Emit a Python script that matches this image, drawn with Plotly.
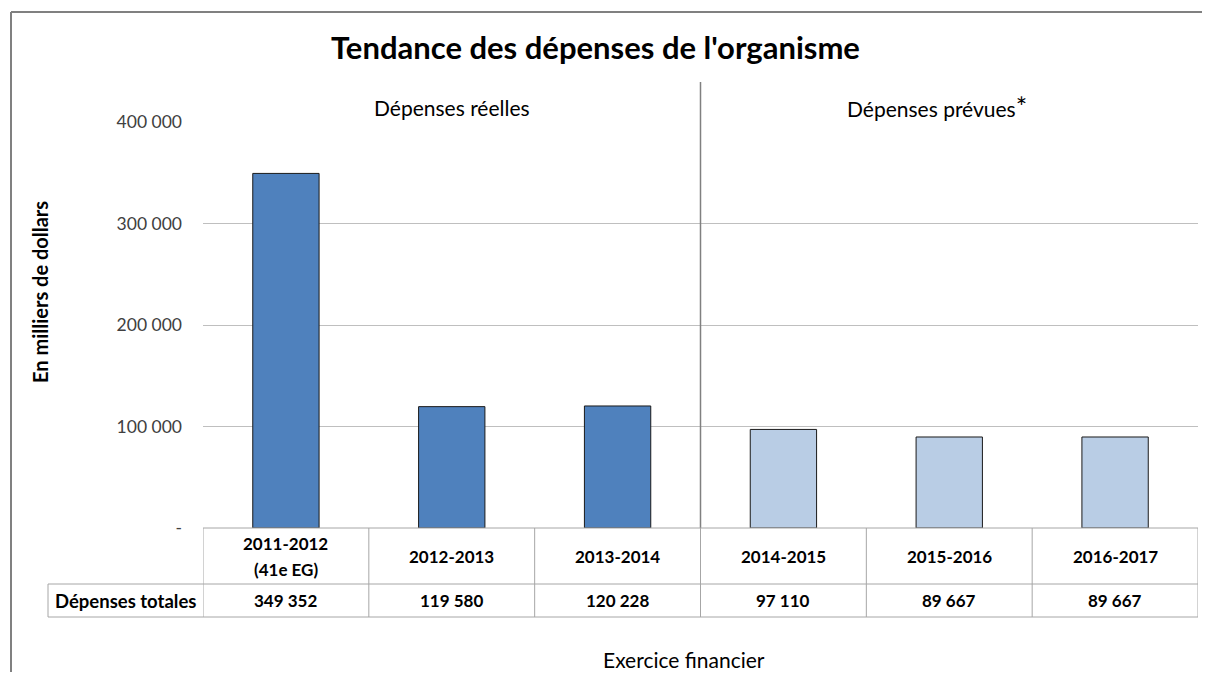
import plotly.graph_objects as go

categories = ["2011-2012<br>(41e EG)", "2012-2013", "2013-2014", "2014-2015", "2015-2016", "2016-2017"]
values = [349352, 119580, 120228, 97110, 89667, 89667]
kinds = ["actual", "actual", "actual", "planned", "planned", "planned"]
tick_vals = [0, 100000, 200000, 300000, 400000]
tick_text = ["-", "100 000", "200 000", "300 000", "400 000"]
row_label = "Dépenses totales"
title_text = "Tendance des dépenses de l'organisme"
y_title = "En milliers de dollars"
x_title = "Exercice financier"
group_labels = ["Dépenses réelles", "Dépenses prévues"]
footnote_mark = "*"

FONT = "Lato, 'Open Sans', sans-serif"
colors = {"actual": "#4F81BD", "planned": "#B9CDE5"}

def fmt(v):
    return f"{v:,}".replace(",", " ")

xs = list(range(len(categories)))
fig = go.Figure()
fig.add_trace(go.Bar(
    x=xs, y=values,
    marker=dict(color=[colors[k] for k in kinds], line=dict(color="#1a1a1a", width=1)),
    width=0.40, hoverinfo="y",
))

# page has an 8px body margin; keep figure small enough to avoid scrollbars
OFF = 8
FW, FH = 1194, 664
SL, SR, ST, SB = 203, 1198, 122, 528
ml, mr = SL - OFF, FW - (SR - OFF)
mt, mb = ST - OFF, FH - (SB - OFF)
pw = SR - SL
ph = SB - ST

def py(s):
    return (SB - s) / ph

def px(s):
    return (s - SL) / pw

grid = "#BFBFBF"
tline = "#A6A6A6"
border = "#808080"
shapes = []
# outer chart border (top and left visible)
shapes.append(dict(type="line", xref="paper", yref="paper", x0=px(11), x1=px(1260), y0=py(12), y1=py(12),
                   line=dict(color=border, width=2)))
shapes.append(dict(type="line", xref="paper", yref="paper", x0=px(11), x1=px(11), y0=py(12), y1=py(720),
                   line=dict(color=border, width=2)))
shapes.append(dict(type="line", xref="x", yref="paper", x0=2.5, x1=2.5, y0=0, y1=py(82),
                   line=dict(color=border, width=1.5)))
r0, r1, r2 = py(528), py(584), py(617)
shapes.append(dict(type="line", xref="paper", yref="paper", x0=0, x1=1, y0=r0, y1=r0, line=dict(color=tline, width=1)))
shapes.append(dict(type="line", xref="paper", yref="paper", x0=px(48), x1=1, y0=r1, y1=r1, line=dict(color=tline, width=1)))
shapes.append(dict(type="line", xref="paper", yref="paper", x0=px(48), x1=1, y0=r2, y1=r2, line=dict(color=tline, width=1)))
shapes.append(dict(type="line", xref="paper", yref="paper", x0=px(48), x1=px(48), y0=r1, y1=r2, line=dict(color=tline, width=1)))
for i in range(len(categories) + 1):
    xb = i - 0.5
    shapes.append(dict(type="line", xref="x", yref="paper", x0=xb, x1=xb, y0=r0, y1=r2, line=dict(color=tline, width=1)))

def ann(text, x, y, size, xref="paper", angle=0):
    return dict(text=text, xref=xref, yref="paper", x=x, y=y, xanchor="center", yanchor="middle",
                textangle=angle, showarrow=False, font=dict(size=size, color="#000000", family=FONT))

annotations = [
    ann(f"<b>{title_text}</b>", px(595), py(47), 31),
    ann(group_labels[0], px(452), py(108), 21),
    ann(f"{group_labels[1]}<span style='font-size:27px'>{footnote_mark}</span>", px(937), py(106), 21),
    ann(f"<b>{y_title}</b>", px(40), py(292), 20, angle=-90),
    ann(x_title, px(684), py(659), 21),
    ann(f"<b>{row_label}</b>", px(125), (r1 + r2) / 2, 18.5),
]
row_mid = (528 + 584) / 2
line_gap = 26
for i, (c, v) in enumerate(zip(categories, values)):
    lines = c.split("<br>")
    n = len(lines)
    for j, ln in enumerate(lines):
        sy = row_mid + (j - (n - 1) / 2) * line_gap
        annotations.append(ann(f"<b>{ln}</b>", i, py(sy), 17, xref="x"))
    annotations.append(ann(f"<b>{fmt(v)}</b>", i, (r1 + r2) / 2, 17, xref="x"))

fig.update_layout(
    width=FW, height=FH,
    margin=dict(l=ml, r=mr, t=mt, b=mb, pad=0),
    paper_bgcolor="white", plot_bgcolor="white",
    showlegend=False,
    shapes=shapes,
    annotations=annotations,
    xaxis=dict(range=[-0.5, len(categories) - 0.5], showticklabels=False, showgrid=False,
               zeroline=False, showline=False, ticks="", fixedrange=True),
    yaxis=dict(range=[0, 400000], tickvals=tick_vals, ticktext=tick_text, showgrid=True,
               gridcolor=grid, gridwidth=1, zeroline=False, showline=False, ticks="",
               ticklabelstandoff=20, tickfont=dict(size=17.5, color="#404040", family=FONT), fixedrange=True),
)

fig.write_html("out.html")
